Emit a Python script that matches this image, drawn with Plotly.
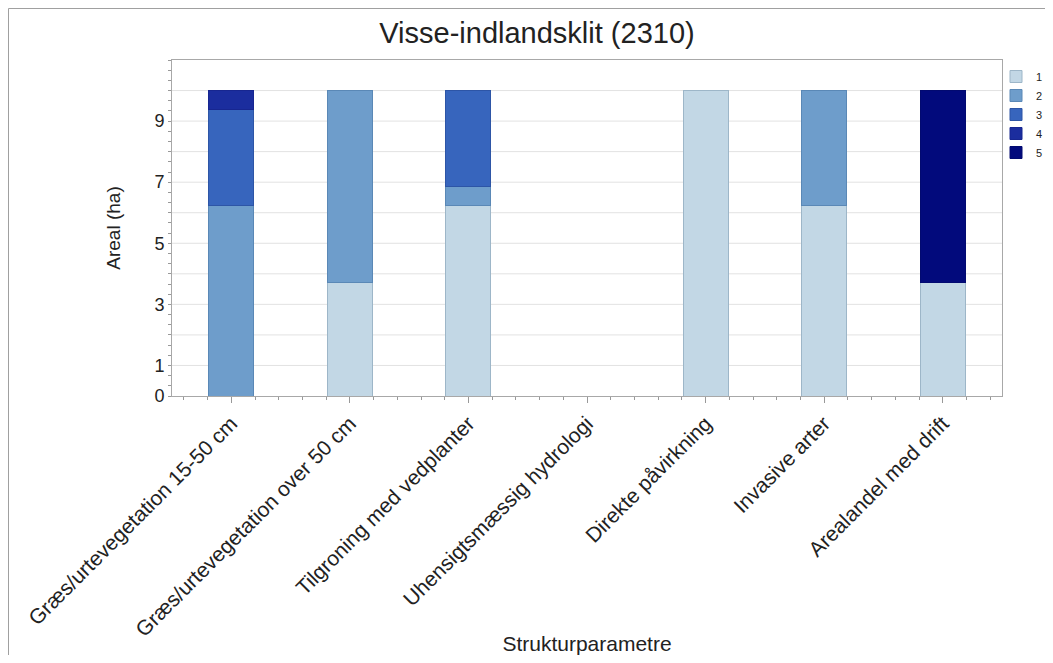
import plotly.graph_objects as go

categories = [
    "Græs/urtevegetation 15-50 cm",
    "Græs/urtevegetation over 50 cm",
    "Tilgroning med vedplanter",
    "Uhensigtsmæssig hydrologi",
    "Direkte påvirkning",
    "Invasive arter",
    "Arealandel med drift",
]
series_names = ["1", "2", "3", "4", "5"]
s1 = [0, 3.72, 6.23, 0, 10, 6.23, 3.72]
s2 = [6.23, 6.28, 0.62, 0, 0, 3.77, 0]
s3 = [3.14, 0, 3.15, 0, 0, 0, 0]
s4 = [0.63, 0, 0, 0, 0, 0, 0]
s5 = [0, 0, 0, 0, 0, 0, 6.28]
series_values = [s1, s2, s3, s4, s5]
colors = ["#c2d7e5", "#6e9dcb", "#3765bd", "#1b2d9e", "#020a7c"]
line_colors = ["#9db6c8", "#5a88b6", "#2d55a6", "#172690", "#020a70"]
ytick_vals = [0, 1, 3, 5, 7, 9]

x_pos = list(range(len(categories)))

fig = go.Figure()
for name, vals, c, lc in zip(series_names, series_values, colors, line_colors):
    fig.add_trace(go.Bar(
        x=x_pos, y=[v if v else None for v in vals], name=name, width=0.38,
        marker=dict(color=c, line=dict(color=lc, width=1)),
    ))

font_family = "Liberation Sans, Arial, sans-serif"
txt = "#222222"

# page body has an 8px margin: figure is drawn at (8,8)
OFF = 8
W, H = 1053 - 2 * OFF, 663 - 2 * OFF
L, T = 172 - OFF, 60 - OFF
R = (OFF + W) - 1002
B = (OFF + H) - 396
PW, PH = W - L - R, H - T - B

fig.update_layout(
    barmode="stack",
    width=W, height=H,
    paper_bgcolor="white", plot_bgcolor="white",
    margin=dict(l=L, r=R, t=T, b=B, autoexpand=False),
    font=dict(family=font_family, color=txt, size=16),
    title=dict(text="Visse-indlandsklit (2310)", x=(537 - OFF) / W, xanchor="center",
               xref="container",
               y=1 - (33 - OFF) / H, yanchor="middle", font=dict(size=29, color=txt)),
    legend=dict(x=1 - (6 / PW), xanchor="left", y=1 - (2 / PH), yanchor="top",
                font=dict(size=11), tracegroupgap=0, itemwidth=30, traceorder="normal",
                bgcolor="rgba(0,0,0,0)"),
    showlegend=True,
)
fig.update_xaxes(
    range=[-0.5, 6.5], tickmode="array", tickvals=x_pos, ticktext=categories,
    tickangle=-45, tickfont=dict(size=21), ticks="outside", ticklen=6,
    tickcolor="#999999", showline=True, linecolor="#a8a8a8", mirror=True,
    showgrid=False, zeroline=False,
    minor=dict(dtick=0.2, tick0=0, ticks="outside", ticklen=3, tickcolor="#999999"),
    title=dict(text="Strukturparametre", font=dict(size=21), standoff=26),
)
fig.update_yaxes(
    range=[0, 11], tickmode="array", tickvals=ytick_vals,
    tickfont=dict(size=18), ticks="outside", ticklen=3, tickcolor="#999999",
    showline=True, linecolor="#a8a8a8", mirror=True,
    showgrid=False, zeroline=False,
    minor=dict(dtick=1/3, tick0=0, ticks="outside", ticklen=3, tickcolor="#999999",
               showgrid=False),
    title=dict(text="Areal (ha)", font=dict(size=19), standoff=28),
)
# gridlines at every integer
for g in range(1, 11):
    fig.add_hline(y=g, line=dict(color="#e2e2e2", width=1), layer="below")

# outer frame (top and left edges, at the figure edge)
fx = (0.5 - L) / PW
fy = 1 + (T - 0.5) / PH
fig.add_shape(type="line", xref="paper", yref="paper",
              x0=fx, x1=1 + R / PW, y0=fy, y1=fy,
              line=dict(color="#a0a0a0", width=1))
fig.add_shape(type="line", xref="paper", yref="paper",
              x0=fx, x1=fx, y0=fy, y1=-B / PH,
              line=dict(color="#a0a0a0", width=1))

fig.write_html("out.html")
